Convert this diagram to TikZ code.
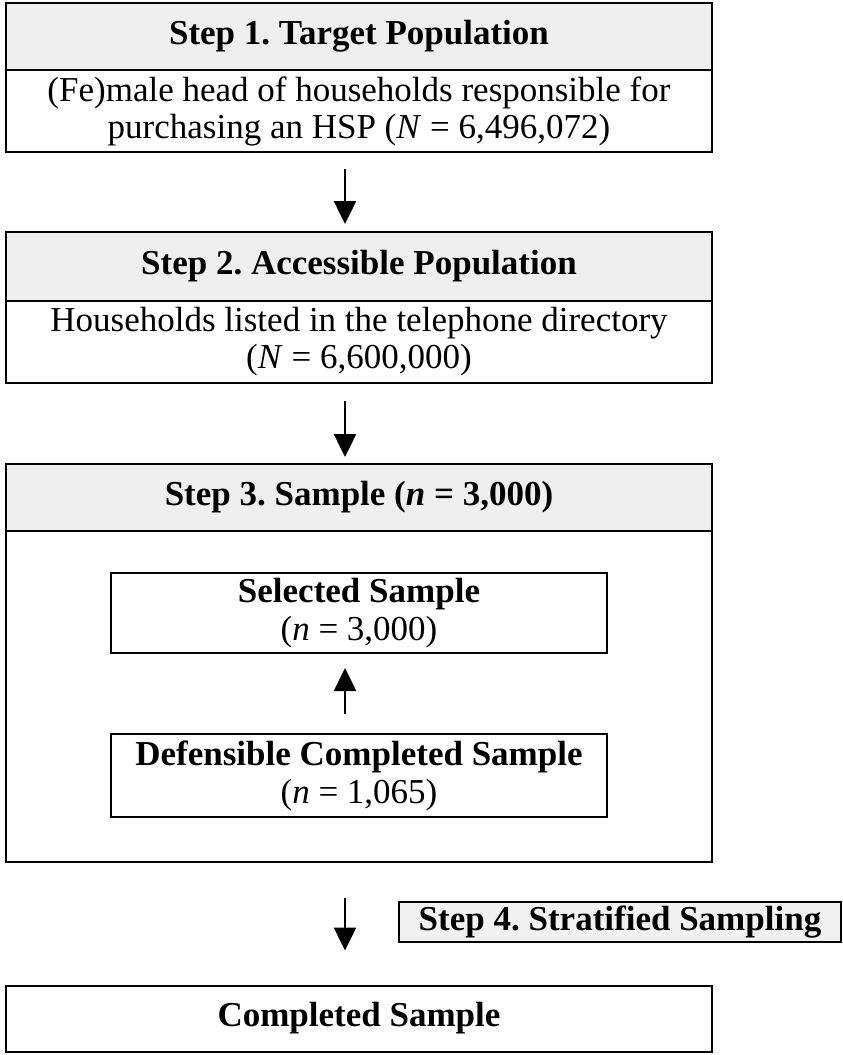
\documentclass[tikz,border=0pt]{standalone}
\usepackage{fontspec}
\setmainfont{Liberation Serif}
\usetikzlibrary{arrows.meta}
\frenchspacing

\definecolor{headfill}{HTML}{EFEFEF}
\definecolor{notefill}{HTML}{F1F1F1}

\begin{document}
\begin{tikzpicture}[x=1bp,y=-1bp,
  panel/.style={draw=black, line width=2bp, inner sep=0pt, align=center,
    minimum width=706bp, font=\fontsize{35bp}{37bp}\selectfont},
  head/.style={panel, fill=headfill, font=\fontsize{35bp}{37bp}\selectfont\bfseries},
  inbox/.style={draw=black, line width=2bp, inner sep=0pt, align=center,
    minimum width=496bp, fill=white, font=\fontsize{35bp}{38bp}\selectfont},
  note/.style={draw=black, line width=2bp, inner sep=0pt, align=center,
    minimum width=442bp, minimum height=40bp, fill=notefill,
    font=\fontsize{35bp}{37bp}\selectfont\bfseries},
  flow/.style={line width=2.5bp, -{Triangle[width=22bp,length=23bp]}}
]
\useasboundingbox (0,0) rectangle (843,1055);

% Step 1
\node[head, minimum height=67bp] (h1) at (359,36.5) {Step 1. Target Population};
\node[panel, minimum height=82bp] (b1) at (359,111)
  {(Fe)male head of households responsible for\\
   purchasing an HSP (\textit{N} = 6,496,072)};

% Step 2
\node[head, minimum height=69bp] (h2) at (359,266.5) {Step 2. Accessible Population};
\node[panel, minimum height=82bp] (b2) at (359,342)
  {Households listed in the telephone directory\\
   (\textit{N} = 6,600,000)};

% Step 3
\node[head, minimum height=67bp] (h3) at (359,497.5) {Step 3. Sample (\textit{n} = 3,000)};
\node[panel, minimum height=331bp] (b3) at (359,696.5) {};
\node[inbox, minimum height=80bp] (sel) at (359,613)
  {\textbf{Selected Sample}\\(\textit{n} = 3,000)};
\node[inbox, minimum height=83bp] (def) at (359,775.5)
  {\textbf{Defensible Completed Sample}\\(\textit{n} = 1,065)};

% Step 4
\node[note] (s4) at (620,922) {Step 4. Stratified Sampling};
\node[head, fill=white, minimum height=66bp] (done) at (359,1018.5) {Completed Sample};

% Connectors
\draw[flow, shorten <=16bp, shorten >=7bp]
  ([xshift=-14bp]b1.south) -- ([xshift=-14bp]h2.north);
\draw[flow, shorten <=17bp, shorten >=6bp]
  ([xshift=-14bp]b2.south) -- ([xshift=-14bp]h3.north);
\draw[flow, shorten <=19bp, shorten >=14bp]
  ([xshift=-14bp]def.north) -- ([xshift=-14bp]sel.south);
\draw[flow, shorten <=35bp, shorten >=34bp]
  ([xshift=-14bp]b3.south) -- ([xshift=-14bp]done.north);
\end{tikzpicture}
\end{document}
